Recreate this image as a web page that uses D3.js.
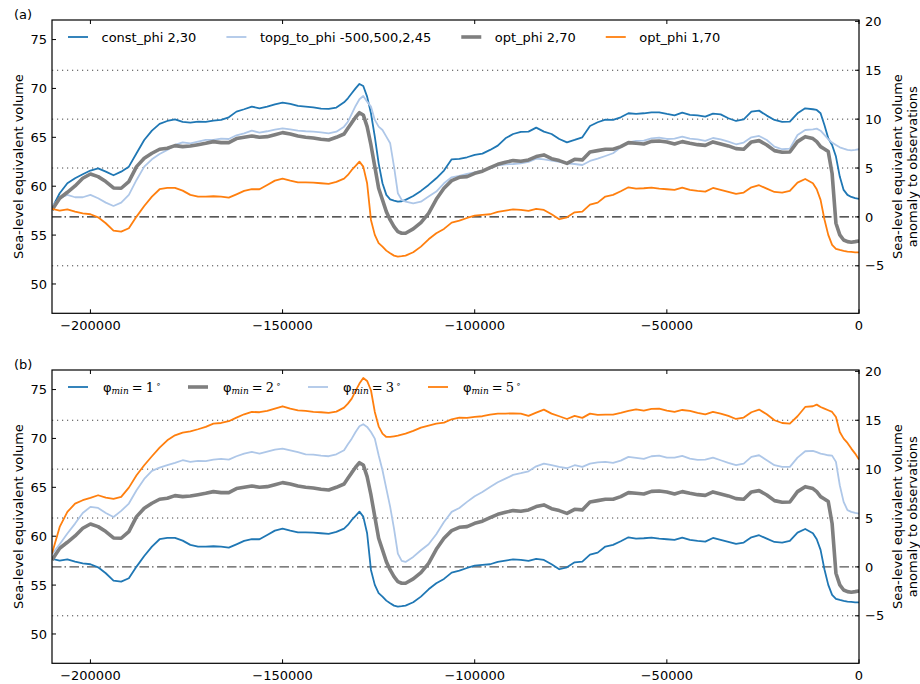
<!DOCTYPE html>
<html><head><meta charset="utf-8">
<script src="https://cdn.jsdelivr.net/npm/d3@7"></script>
<style>
body{margin:0;background:#fff}
text{font-family:"DejaVu Sans",sans-serif;fill:#000}
</style>
</head><body>
<svg id="chart" width="920" height="684"></svg>
<script>
// ---------------- data ----------------
const years = [
-210000,-208000,-206000,-204000,-202000,-200000,-198000,-196000,-194000,-192000,-190000,-188000,-186000,-184000,-182000,-180000,-178000,-176000,-174000,-172000,-170000,-168000,-166000,-164000,-162000,-160000,-158000,-156000,-154000,-152000,-150000,-148000,-146000,-144000,-142000,-140000,-138000,-136000,
-134000,-133000,-132000,-131000,-130000,-129000,-128000,-127000,-126000,-125000,-124000,-123000,-122000,-121000,-120000,-119000,-118000,
-116000,-114000,-112000,-110000,-108000,-106000,-104000,-102000,-100000,-98000,-96000,-94000,-92000,-90000,-88000,-86000,-84000,-82000,-80000,-78000,-76000,-74000,-72000,-70000,-68000,-66000,-64000,-62000,-60000,-58000,-56000,-54000,-52000,-50000,-48000,-46000,-44000,-42000,-40000,-38000,-36000,-34000,-32000,-30000,-28000,-26000,-24000,-22000,-20000,-18000,-16000,-14000,-12000,
-11000,-10000,-9000,-8000,-7000,-6000,-5000,-4000,-3000,-2000,-1000,0];

const constPhi = [
57.74,59.28,60.3,60.81,61.22,61.6,61.83,61.49,61.12,61.49,62.0,63.37,64.73,65.68,66.37,66.67,66.84,66.57,66.5,66.6,66.57,66.71,66.78,67.05,67.63,67.87,68.14,67.97,68.14,68.38,68.55,68.41,68.21,68.14,68.07,67.93,67.9,68.04,
68.58,68.99,69.5,70.01,70.46,70.25,69.16,67.46,65.07,62.34,60.3,59.11,58.66,58.53,58.42,58.46,58.6,
59.0,59.52,60.13,60.81,61.6,62.75,62.79,62.96,63.2,63.33,63.71,64.15,64.9,65.34,65.55,65.58,65.99,65.58,65.34,64.83,64.49,64.73,65.0,66.16,66.54,66.81,66.78,67.05,67.46,67.39,67.46,67.56,67.56,67.39,67.25,67.52,67.29,67.25,67.12,67.42,67.35,66.95,66.67,66.84,67.63,67.73,67.22,66.78,66.57,66.6,67.46,67.97,67.87,
67.8,67.46,66.26,64.9,64.22,63.03,60.98,59.62,59.11,58.9,58.77,58.7];

const topgToPhi = [
57.91,58.77,59.11,58.87,58.87,59.11,58.77,58.32,57.98,58.32,59.11,60.64,62.0,62.75,63.3,63.71,64.22,64.49,64.39,64.56,64.73,64.73,64.87,64.83,65.21,65.41,65.68,65.48,65.62,65.79,65.92,65.82,65.68,65.62,65.58,65.51,65.41,65.58,
66.09,66.6,67.39,68.21,68.89,69.23,68.65,68.14,66.78,66.09,65.75,65.07,64.39,62.0,59.28,58.6,58.42,
58.25,58.42,58.94,59.45,60.3,60.91,61.05,61.25,61.42,61.59,61.83,62.14,62.24,62.27,62.34,62.48,62.82,62.75,62.62,62.48,62.34,62.27,62.17,62.58,62.82,63.09,63.37,63.98,64.49,64.63,64.66,64.9,64.97,64.83,64.87,65.07,64.87,64.8,64.63,64.93,64.8,64.56,64.29,64.46,65.0,65.14,64.73,64.05,63.78,63.84,65.24,65.75,65.82,
65.89,65.68,65.24,64.8,64.46,64.22,63.98,63.84,63.71,63.67,63.71,63.78];

// opt_phi 2,70  (identical to phi_min = 2 deg)
const optPhi2 = [
57.57,58.77,59.38,60.03,60.81,61.25,60.98,60.47,59.82,59.79,60.47,62.0,62.86,63.37,63.78,63.88,64.15,64.05,64.12,64.25,64.39,64.56,64.46,64.46,64.87,65.0,65.14,65.0,65.07,65.27,65.48,65.34,65.14,65.0,64.93,64.8,64.73,65.0,
65.34,65.92,66.5,67.05,67.52,67.29,66.09,64.22,62.0,59.79,58.6,57.4,56.55,55.87,55.36,55.19,55.19,
55.63,56.28,57.23,58.66,59.79,60.57,60.91,60.98,61.32,61.53,61.9,62.24,62.45,62.62,62.55,62.69,63.03,63.2,62.82,62.62,62.34,62.75,62.69,63.5,63.64,63.78,63.78,64.05,64.46,64.39,64.32,64.59,64.63,64.53,64.32,64.56,64.39,64.25,64.18,64.53,64.32,64.12,63.84,63.78,64.53,64.66,64.22,63.64,63.47,63.5,64.56,65.07,64.87,
64.56,64.05,63.81,63.54,61.3,56.21,55.02,54.5,54.33,54.27,54.33,54.4];

// opt_phi 1,70  (identical to phi_min = 1 deg)
const optPhi1 = [
57.68,57.5,57.64,57.4,57.23,57.13,56.82,56.21,55.46,55.36,55.7,56.89,57.98,58.94,59.69,59.82,59.82,59.55,59.11,58.94,58.94,58.97,58.94,58.83,59.17,59.52,59.69,59.69,60.13,60.57,60.78,60.57,60.4,60.4,60.37,60.3,60.23,60.44,
60.78,61.15,61.66,62.07,62.51,62.0,60.3,56.55,55.02,54.17,53.82,53.41,53.14,52.9,52.8,52.84,52.9,
53.24,53.82,54.57,55.19,55.63,56.28,56.48,56.75,56.99,57.06,57.13,57.37,57.5,57.64,57.57,57.47,57.68,57.57,57.13,56.62,56.82,57.33,57.4,58.12,58.32,58.94,59.11,59.48,59.89,59.75,59.79,59.86,59.75,59.69,59.62,59.86,59.62,59.52,59.45,59.82,59.62,59.41,59.21,59.35,59.89,60.1,59.75,59.41,59.35,59.52,60.37,60.74,60.3,
59.69,58.6,56.62,55.02,54.0,53.59,53.48,53.38,53.31,53.28,53.24,53.24];

const phiMin3 = [
58.16,59.18,60.27,61.29,62.38,63.0,62.89,62.38,61.97,62.59,63.34,64.7,65.86,66.68,67.02,67.26,67.5,67.77,67.6,67.7,67.67,67.84,67.9,67.84,68.18,68.45,68.62,68.45,68.65,68.86,68.96,68.79,68.59,68.38,68.35,68.24,68.18,68.38,
68.79,69.4,69.98,70.66,71.24,71.45,71.18,70.66,69.98,68.28,66.75,64.87,63.0,60.78,58.22,57.47,57.37,
57.88,58.56,59.18,60.2,61.46,62.49,62.89,63.51,64.09,64.53,65.04,65.52,65.89,66.27,66.44,66.64,67.15,67.43,67.26,67.09,66.95,67.26,67.09,67.43,67.56,67.6,67.5,67.73,68.11,68.01,67.9,68.18,68.24,68.04,68.04,68.21,67.94,67.8,67.84,68.04,67.77,67.5,67.26,67.43,68.11,68.28,67.77,67.26,67.09,67.09,68.04,68.69,68.72,
68.59,68.45,68.38,68.28,68.24,67.6,65.21,63.51,62.66,62.49,62.38,62.31];

const phiMin5 = [
58.22,60.95,62.48,63.34,63.68,63.92,64.19,63.95,63.81,64.02,64.97,66.23,67.26,68.18,69.06,69.81,70.32,70.6,70.73,70.94,71.18,71.52,71.58,71.76,72.13,72.47,72.71,72.68,72.81,73.05,73.29,73.05,72.88,72.81,72.71,72.68,72.61,72.74,
73.15,73.56,74.07,74.86,75.61,76.19,75.88,74.93,72.71,71.24,70.49,70.15,70.15,70.22,70.29,70.39,70.49,
70.77,71.11,71.31,71.52,71.62,71.96,72.13,72.1,72.2,72.27,72.44,72.54,72.54,72.57,72.54,72.3,72.64,72.95,72.54,72.27,71.99,72.3,72.1,72.54,72.4,72.44,72.44,72.61,72.81,72.98,72.85,73.02,73.05,72.85,72.71,72.91,72.81,72.61,72.47,72.71,72.54,72.3,71.99,72.13,72.68,72.95,72.47,71.86,71.58,71.52,72.27,73.22,73.29,
73.46,73.22,73.05,72.88,72.71,72.2,70.66,69.98,69.54,68.96,68.45,67.84];

const observed = 56.86;                 // observation level (zero of right axis)
const xTicks = [-200000,-150000,-100000,-50000,0];
const leftTicks = [50,55,60,65,70,75];
const rightTicks = [-5,0,5,10,15,20];
const dottedAnomalies = [-5,5,10,15];
const panelLabels = ["(a)","(b)"];
const topNames = ["const_phi 2,30","topg_to_phi -500,500,2,45","opt_phi 2,70","opt_phi 1,70"];
const phiValues = ["1","2","3","5"];

// ---------------- drawing ----------------
const C = {blue:"#1f77b4", light:"#aec7e8", grey:"#7f7f7f", orange:"#ff7f0e"};
const svg = d3.select("#chart");
svg.append("rect").attr("width",920).attr("height",684).attr("fill","#fff");

const L = 52, R = 859;
const x = d3.scaleLinear().domain([-210000,0]).range([L,R]);
const fmt = d3.format("d");

function panel(idx, top, bottom, series, legendKind){
  const y = d3.scaleLinear().domain([47,77]).range([bottom,top]);
  const yr = d3.scaleLinear().domain([47-observed,77-observed]).range([bottom,top]);
  const g = svg.append("g");
  const clipId = "clip"+idx;
  svg.append("clipPath").attr("id",clipId).append("rect")
     .attr("x",L).attr("y",top).attr("width",R-L).attr("height",bottom-top);

  // reference lines
  g.selectAll("line.dot").data(dottedAnomalies).enter().append("line")
    .attr("x1",L).attr("x2",R).attr("y1",d=>yr(d)).attr("y2",d=>yr(d))
    .attr("stroke","#444").attr("stroke-width",1).attr("stroke-dasharray","1.2,3.8");
  g.append("line").attr("x1",L).attr("x2",R).attr("y1",yr(0)).attr("y2",yr(0))
    .attr("stroke", idx===0 ? "#222" : "#555").attr("stroke-width",1.1)
    .attr("stroke-dasharray","9.5,3,1.5,3.5");

  // series
  const line = d3.line().x((d,i)=>x(years[i])).y(d=>y(d));
  const lg = g.append("g").attr("clip-path","url(#"+clipId+")");
  series.forEach(s=>{
    lg.append("path").attr("d",line(s.values)).attr("fill","none")
      .attr("stroke",s.color).attr("stroke-width",s.width)
      .attr("stroke-linejoin","round");
  });

  // frame
  g.append("rect").attr("x",L).attr("y",top).attr("width",R-L).attr("height",bottom-top)
    .attr("fill","none").attr("stroke","#000").attr("stroke-width",1.2);

  // ticks (inward)
  xTicks.forEach(t=>{
    g.append("line").attr("x1",x(t)).attr("x2",x(t)).attr("y1",bottom).attr("y2",bottom-4).attr("stroke","#000");
    g.append("line").attr("x1",x(t)).attr("x2",x(t)).attr("y1",top).attr("y2",top+4).attr("stroke","#000");
    g.append("text").attr("x",x(t)).attr("y",bottom+17).attr("text-anchor","middle")
      .attr("font-size",13).text(fmt(t));
  });
  leftTicks.forEach(t=>{
    g.append("line").attr("x1",L).attr("x2",L+4).attr("y1",y(t)).attr("y2",y(t)).attr("stroke","#000");
    g.append("text").attr("x",L-5).attr("y",y(t)).attr("dy","0.36em").attr("text-anchor","end")
      .attr("font-size",13).text(fmt(t));
  });
  rightTicks.forEach(t=>{
    g.append("line").attr("x1",R).attr("x2",R-4).attr("y1",yr(t)).attr("y2",yr(t)).attr("stroke","#000");
    g.append("text").attr("x",R+6).attr("y",yr(t)).attr("dy","0.36em").attr("text-anchor","start")
      .attr("font-size",13).text(fmt(t));
  });

  // axis titles
  const mid = (top+bottom)/2;
  g.append("text").attr("transform",`translate(23,${mid}) rotate(-90)`).attr("text-anchor","middle")
    .attr("font-size",13).text("Sea-level equivalent volume");
  g.append("text").attr("transform",`translate(902,${mid}) rotate(-90)`).attr("text-anchor","middle")
    .attr("font-size",13).text("Sea-level equivalent volume");
  g.append("text").attr("transform",`translate(917,${mid}) rotate(-90)`).attr("text-anchor","middle")
    .attr("font-size",13).text("anomaly to observations");

  // panel label
  g.append("text").attr("x",14).attr("y",top-1).attr("font-size",13).text(panelLabels[idx]);

  // legend
  const ly = top + 17;
  let hx = 68;
  series.forEach((s,i)=>{
    g.append("line").attr("x1",hx).attr("x2",hx+20).attr("y1",ly).attr("y2",ly)
      .attr("stroke",s.color).attr("stroke-width",s.width);
    let t;
    if(legendKind==="plain"){
      t = g.append("text").attr("x",hx+33.5).attr("y",ly+4.7).attr("font-size",13).text(s.label);
    } else {
      t = g.append("text").attr("x",hx+35).attr("y",ly+4.7).attr("font-size",13);
      t.append("tspan").attr("font-family","DejaVu Sans").text("φ");
      t.append("tspan").attr("font-family","DejaVu Serif").attr("font-style","italic")
        .attr("font-size",9).attr("dy",2.5).text("min");
      t.append("tspan").attr("font-family","DejaVu Serif").attr("dy",-2.5).attr("dx",3).text("=");
      t.append("tspan").attr("font-family","DejaVu Serif").attr("dx",3).text(s.label);
      t.append("tspan").attr("font-family","DejaVu Sans").attr("font-size",8).attr("dx",2).attr("dy",-5).text("∘");
    }
    const w = t.node().getComputedTextLength();
    hx = (legendKind==="plain") ? hx+33.5+w+30 : hx+120;
  });
}

panel(0, 20, 313.3, [
  {values:constPhi, color:C.blue,  width:1.8, label:topNames[0]},
  {values:topgToPhi,color:C.light, width:1.8, label:topNames[1]},
  {values:optPhi2,  color:C.grey,  width:3.6, label:topNames[2]},
  {values:optPhi1,  color:C.orange,width:1.8, label:topNames[3]}
], "plain");

panel(1, 370, 663.3, [
  {values:optPhi1,  color:C.blue,  width:1.8, label:phiValues[0]},
  {values:optPhi2,  color:C.grey,  width:3.6, label:phiValues[1]},
  {values:phiMin3,  color:C.light, width:1.8, label:phiValues[2]},
  {values:phiMin5,  color:C.orange,width:1.8, label:phiValues[3]}
], "math");
</script>
</body></html>
